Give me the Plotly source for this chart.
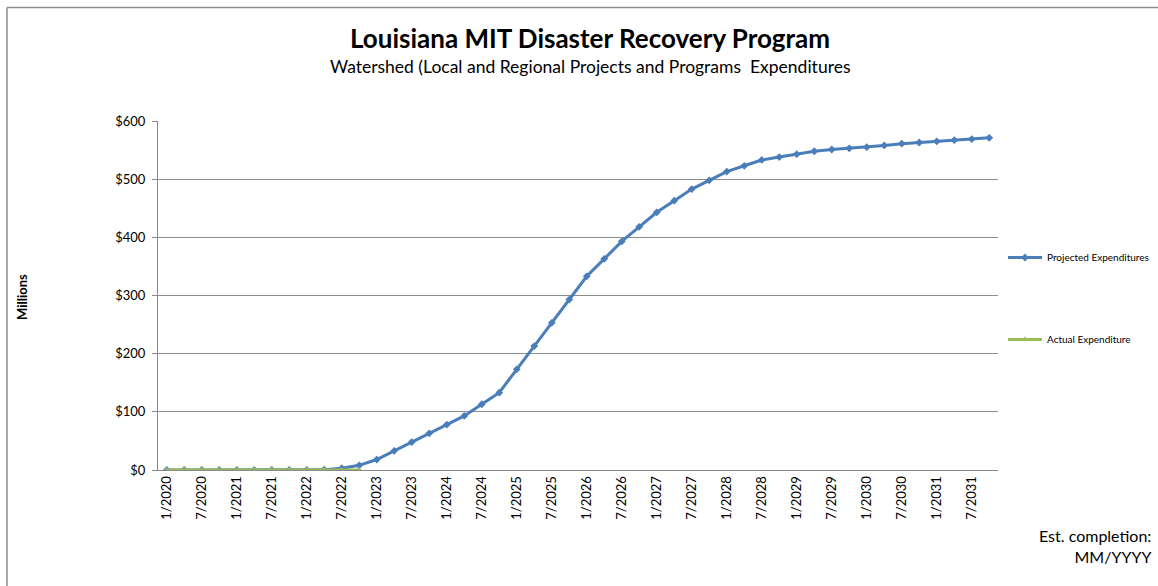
import plotly.graph_objects as go

# Quarterly categories 1/2020 .. 10/2031
years = list(range(2020, 2032))
months = [1, 4, 7, 10]
categories = [f"{m}/{y}" for y in years for m in months]
tick_labels = [c for c in categories if c.split("/")[0] in ("1", "7")]

projected = [0, 0, 0, 0, 0, 0, 0, 0, 0, 0.5, 3, 8,
             18, 33, 48, 63, 78, 93, 113, 133, 173, 213, 253, 293,
             333, 363, 393, 418, 443, 463, 483, 498, 513, 523, 533, 538,
             543, 548, 551, 553, 555, 558, 561, 563, 565, 567, 569, 571]
actual = [0] * 12
actual_cats = categories[:12]

y_ticks = [0, 100, 200, 300, 400, 500, 600]
y_tick_text = [f"${v}" for v in y_ticks]

FONT = "Lato, 'Open Sans', sans-serif"

fig = go.Figure()
fig.add_trace(go.Scatter(
    x=categories, y=projected, mode="lines+markers", name="Projected Expenditures",
    line=dict(color="#4A7EBB", width=3),
    marker=dict(symbol="diamond", size=6, color="#4A7EBB"),
    legendgroup="a",
))
fig.add_trace(go.Scatter(
    x=actual_cats, y=actual, mode="lines+markers", name="Actual Expenditure",
    line=dict(color="#9BBB59", width=3),
    marker=dict(symbol="triangle-up", size=6, color="#9BBB59"),
    legendgroup="b",
))

L, R, T, B = 158, 998, 121, 470
W, H = 1158, 586

def px(x):
    return (x - L) / (R - L)

def py(y):
    return (B - y) / (B - T)

fig.update_layout(
    width=W, height=H,
    margin=dict(l=L, r=W - R, t=T, b=H - B, pad=0, autoexpand=False),
    paper_bgcolor="white", plot_bgcolor="white",
    font=dict(family=FONT, color="black"),
    showlegend=True,
    legend=dict(x=px(1003), y=py(243), xanchor="left", yanchor="top",
                font=dict(size=10, family=FONT), tracegroupgap=63,
                traceorder="grouped", itemwidth=34, bgcolor="rgba(0,0,0,0)"),
    xaxis=dict(
        type="category", categoryorder="array", categoryarray=categories,
        range=[-0.5, len(categories) - 0.5],
        tickmode="array", tickvals=tick_labels, ticktext=tick_labels,
        tickangle=-90, tickfont=dict(size=13, family=FONT),
        showgrid=False, showline=True, linecolor="#888888", linewidth=1,
        ticks="", zeroline=False,
    ),
    yaxis=dict(
        range=[0, 600], tickvals=y_ticks, ticktext=y_tick_text,
        tickfont=dict(size=13, family=FONT),
        showgrid=True, gridcolor="#8C8C8C", gridwidth=1,
        showline=True, linecolor="#888888", linewidth=1,
        ticks="outside", ticklen=5, tickcolor="#888888",
        zeroline=False,
        ticklabelstandoff=4,
    ),
    annotations=[
        dict(text="<b>Louisiana MIT Disaster Recovery Program</b>", x=px(590), y=py(38),
             xref="paper", yref="paper", xanchor="center", yanchor="middle",
             showarrow=False, font=dict(size=26, family=FONT)),
        dict(text="Watershed (Local and Regional Projects and Programs  Expenditures",
             x=px(590), y=py(66), xref="paper", yref="paper", xanchor="center", yanchor="middle",
             showarrow=False, font=dict(size=17.5, family=FONT)),
        dict(text="<b>Millions</b>", x=px(22), y=py(297), xref="paper", yref="paper",
             xanchor="center", yanchor="middle",
             showarrow=False, textangle=-90, font=dict(size=13, family=FONT)),
        dict(text="Est. completion:<br>MM/YYYY", x=px(1153), y=py(524), xref="paper",
             yref="paper", xanchor="right", yanchor="top", align="right",
             showarrow=False, font=dict(size=16, family=FONT)),
    ],
    shapes=[
        dict(type="line", xref="paper", yref="paper", x0=px(7), x1=px(1170), y0=py(7.5), y1=py(7.5),
             line=dict(color="#8C8C8C", width=1.5)),
        dict(type="line", xref="paper", yref="paper", x0=px(7), x1=px(7), y0=py(7.5), y1=py(600),
             line=dict(color="#8C8C8C", width=1.5)),
    ],
)

fig.write_html(
    "out.html",
    config={"displayModeBar": False},
    post_script="document.body.style.margin='0';document.body.style.overflow='hidden';",
)
